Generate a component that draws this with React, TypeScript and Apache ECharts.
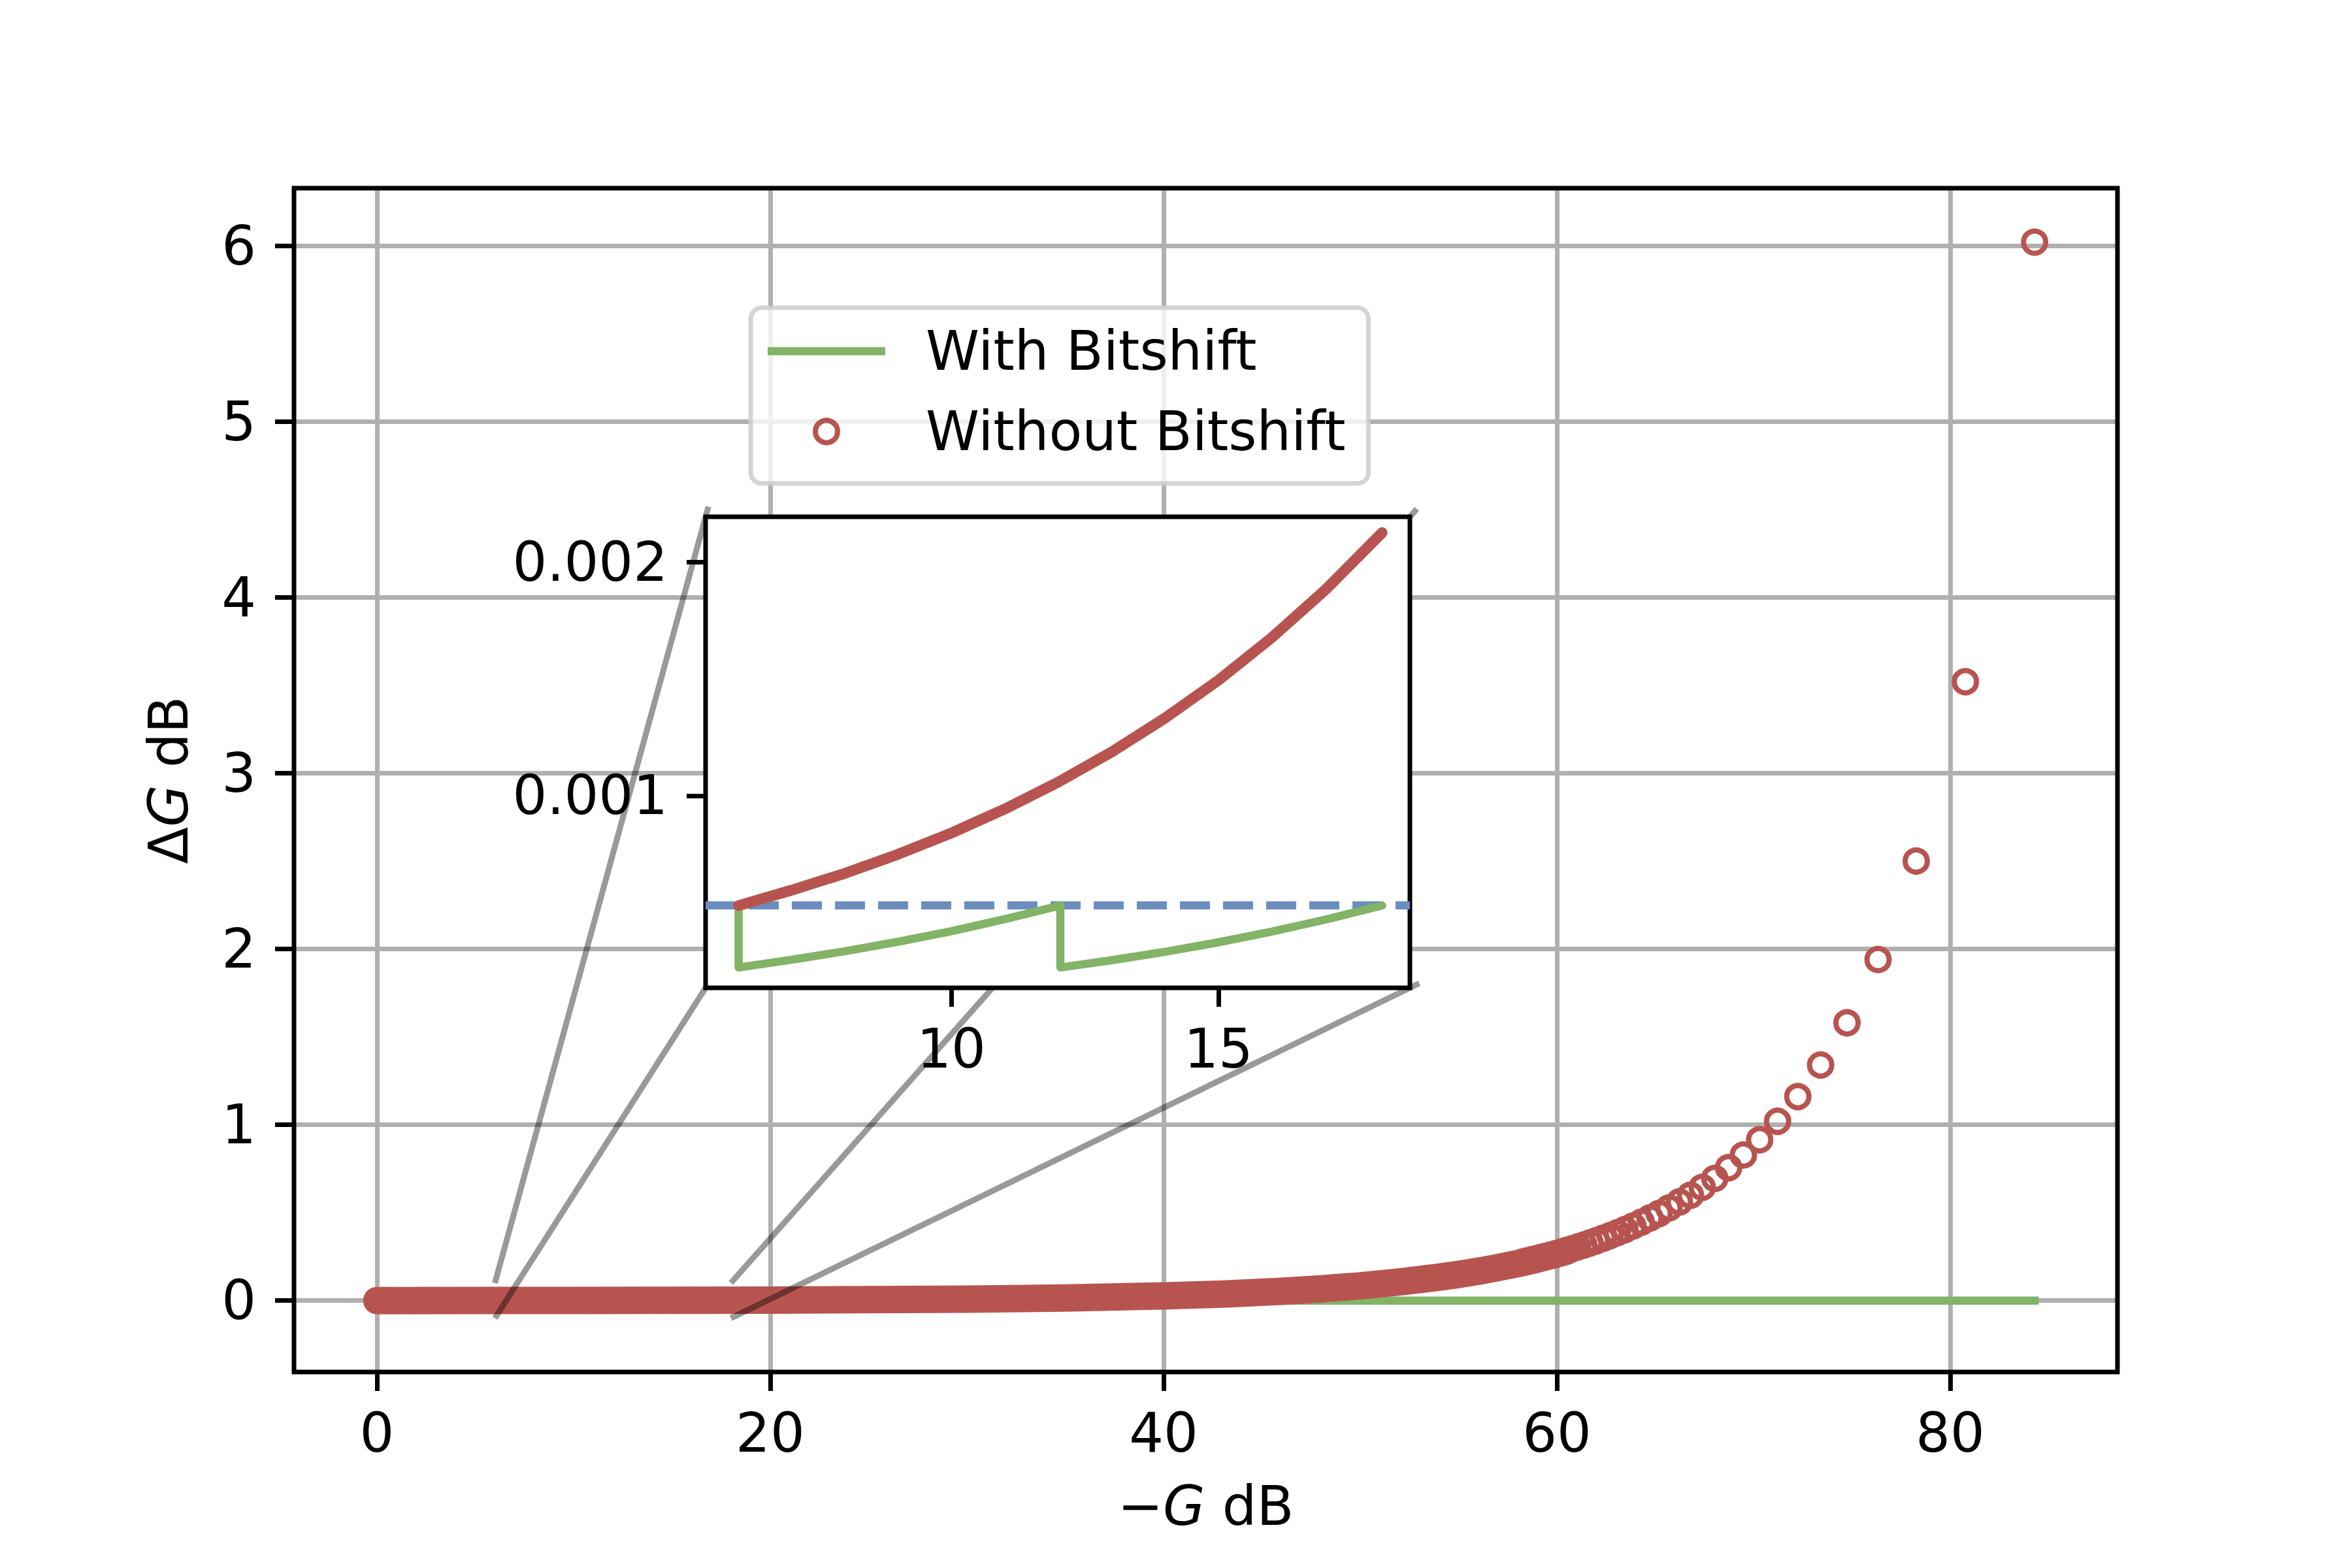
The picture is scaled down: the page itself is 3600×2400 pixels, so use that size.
import React, { useEffect, useRef } from 'react';
import * as echarts from 'echarts';

const FONT = 'DejaVu Sans';
const RED = '#b85450';
const GREEN = '#82b366';
const BLUE = '#6c8ebf';

// ---- tick labels ----
const MAIN_X_TICKS = [0, 20, 40, 60, 80];
const MAIN_Y_TICKS = [0, 1, 2, 3, 4, 5, 6];
const INSET_X_TICKS = [10, 15];
const INSET_Y_TICKS = [0.001, 0.002];

// ---- main axes: "With Bitshift" (flat near zero) ----
const greenX = [0, 84.29];
const greenY = [0.0004, 0.0004];

// ---- main axes: "Without Bitshift" dense part (overlapping markers form a band) ----
const bandX = [0, 10, 20, 30, 35, 40, 43, 46, 48, 50, 52, 54, 55, 56, 57, 58, 59, 60, 60.5];
const bandY = [0.0003, 0.0008, 0.0027, 0.0084, 0.015, 0.027, 0.037, 0.053, 0.067, 0.084, 0.106, 0.133, 0.149, 0.167, 0.188, 0.21, 0.236, 0.265, 0.281];

// ---- main axes: "Without Bitshift" separate markers ----
const markX = [84.29, 80.77, 78.27, 76.33, 74.75, 73.41, 72.25, 71.22, 70.31, 69.48, 68.73, 68.03, 67.39, 66.79, 66.23, 65.7, 65.2, 64.73, 64.29, 63.87, 63.46, 63.07, 62.71, 62.35, 62.01, 61.68, 61.37, 61.06, 60.77, 60.48, 60.21, 59.94, 59.68, 59.43, 59.18, 58.95, 58.71, 58.49, 58.27];
const markY = [6.02, 3.52, 2.5, 1.94, 1.58, 1.34, 1.16, 1.02, 0.915, 0.828, 0.756, 0.695, 0.644, 0.599, 0.561, 0.527, 0.496, 0.47, 0.446, 0.424, 0.404, 0.386, 0.37, 0.355, 0.341, 0.328, 0.316, 0.305, 0.295, 0.285, 0.276, 0.267, 0.259, 0.252, 0.245, 0.238, 0.232, 0.226, 0.22];

// ---- inset ----
const insetRedX = [6.02, 7, 8, 9, 10, 11, 12, 13, 14, 15, 16, 17, 18.06];
const insetRedY = [0.00053, 0.000595, 0.000667, 0.000749, 0.00084, 0.000943, 0.001058, 0.001187, 0.001332, 0.001494, 0.001677, 0.001881, 0.002125];
const insetGreenX = [6.02, 6.02, 7, 8, 9, 10, 11, 12.04, 12.04, 13, 14, 15, 16, 17, 18.06];
const insetGreenY = [0.00053, 0.000265, 0.000298, 0.000334, 0.000375, 0.00042, 0.000472, 0.00053, 0.000265, 0.000296, 0.000332, 0.000373, 0.000419, 0.00047, 0.00053];
const insetRefY = 0.000531;

// axis ranges
const MAIN_X_RANGE = [-4.214, 88.502];
const MAIN_Y_RANGE = [-0.406, 6.327];
const INSET_X_RANGE = [5.403, 18.58];
const INSET_Y_RANGE = [0.000178, 0.002193];
// zoomed region marked on the main axes
const ZOOM_X = [6, 18];
const ZOOM_Y = [-0.1, 0.1];

const zip = (xs: number[], ys: number[]) => xs.map((x, i) => [x, ys[i]]);

const labelStyle = { fontSize: 83, fontFamily: FONT, color: '#000' };
const nameStyle = {
  fontSize: 83,
  fontFamily: FONT,
  color: '#000',
  lineHeight: 83,
  rich: {
    i: { fontStyle: 'italic', fontSize: 83, fontFamily: FONT, color: '#000', lineHeight: 83 },
    n: { fontSize: 83, fontFamily: FONT, color: '#000', lineHeight: 83 },
  },
};
const tickStyle = { color: '#000', width: 7 };

export default function App() {
  const ref = useRef<HTMLDivElement>(null);
  useEffect(() => {
    if (!ref.current) return;
    const chart = echarts.init(ref.current, null, { renderer: 'svg', width: 3600, height: 2400 });
    const option: any = {
      animation: false,
      backgroundColor: '#fff',
      grid: [
        { left: 450, top: 288, width: 2791, height: 1812, show: true, borderColor: '#000', borderWidth: 7, backgroundColor: 'transparent', z: 1 },
        { left: 1080, top: 791, width: 1078, height: 721, show: true, borderColor: '#000', borderWidth: 7, backgroundColor: '#fff', z: 10 },
      ],
      xAxis: [
        {
          gridIndex: 0, type: 'value', min: MAIN_X_RANGE[0], max: MAIN_X_RANGE[1], position: 'bottom',
          axisLine: { show: false, onZero: false },
          axisTick: { show: true, length: 29, lineStyle: tickStyle, customValues: MAIN_X_TICKS },
          axisLabel: { customValues: MAIN_X_TICKS, margin: 52, ...labelStyle },
          splitLine: { show: true, lineStyle: { color: '#b0b0b0', width: 7 } },
          name: '{n|−}{i|G}{n| dB}', nameLocation: 'middle', nameGap: 164, nameTextStyle: nameStyle,
        },
        {
          gridIndex: 1, type: 'value', min: INSET_X_RANGE[0], max: INSET_X_RANGE[1], z: 11, position: 'bottom',
          axisLine: { show: false, onZero: false },
          axisTick: { show: true, length: 29, lineStyle: tickStyle, customValues: INSET_X_TICKS },
          axisLabel: { customValues: INSET_X_TICKS, margin: 52, ...labelStyle },
          splitLine: { show: false },
        },
      ],
      yAxis: [
        {
          gridIndex: 0, type: 'value', min: MAIN_Y_RANGE[0], max: MAIN_Y_RANGE[1], position: 'left',
          axisLine: { show: false, onZero: false },
          axisTick: { show: true, length: 29, lineStyle: tickStyle, customValues: MAIN_Y_TICKS },
          axisLabel: { customValues: MAIN_Y_TICKS, margin: 58, ...labelStyle },
          splitLine: { show: true, lineStyle: { color: '#b0b0b0', width: 7 } },
          name: '{n|Δ}{i|G}{n| dB}', nameLocation: 'middle', nameGap: 150, nameTextStyle: nameStyle,
        },
        {
          gridIndex: 1, type: 'value', min: INSET_Y_RANGE[0], max: INSET_Y_RANGE[1], z: 11, position: 'left',
          axisLine: { show: false, onZero: false },
          axisTick: { show: true, length: 29, lineStyle: tickStyle, customValues: INSET_Y_TICKS },
          axisLabel: { customValues: INSET_Y_TICKS, margin: 58, formatter: (v: number) => v.toFixed(3), ...labelStyle },
          splitLine: { show: false },
        },
      ],
      legend: {
        orient: 'vertical', left: 1149, top: 471, z: 20,
        itemWidth: 180, itemHeight: 34, itemGap: 40,
        padding: [25, 35, 38, 26],
        backgroundColor: 'rgba(255,255,255,0.8)',
        borderColor: 'rgba(204,204,204,0.85)', borderWidth: 7, borderRadius: 17,
        selectedMode: false,
        textStyle: { fontSize: 83, fontFamily: FONT, color: '#000', lineHeight: 83, padding: [0, 0, 0, 57] },
        data: [
          { name: 'With Bitshift', icon: 'path://M0,0H180V12.5H0Z', itemStyle: { color: GREEN, borderWidth: 0 } },
          { name: 'Without Bitshift', icon: 'circle', itemStyle: { color: 'rgba(255,255,255,0)', borderColor: RED, borderWidth: 8, opacity: 1 } },
        ],
      },
      series: [
        {
          name: 'With Bitshift', type: 'line', xAxisIndex: 0, yAxisIndex: 0, z: 2,
          data: zip(greenX, greenY), symbol: 'none', silent: true,
          lineStyle: { color: GREEN, width: 12.5, cap: 'square' }, itemStyle: { color: GREEN },
        },
        {
          name: 'Without Bitshift', type: 'line', xAxisIndex: 0, yAxisIndex: 0, z: 2,
          data: zip(bandX, bandY), symbol: 'none', silent: true,
          lineStyle: { color: RED, width: 42, cap: 'round', join: 'round' }, itemStyle: { color: RED },
        },
        {
          name: 'Without Bitshift', type: 'scatter', xAxisIndex: 0, yAxisIndex: 0, z: 2,
          data: zip(markX, markY), symbol: 'circle', symbolSize: 34, silent: true,
          itemStyle: { color: 'rgba(255,255,255,0)', borderColor: RED, borderWidth: 8, opacity: 1 },
        },
        {
          name: 'inset-ref', type: 'line', xAxisIndex: 1, yAxisIndex: 1, z: 12,
          data: [[INSET_X_RANGE[0], insetRefY], [INSET_X_RANGE[1], insetRefY]], symbol: 'none', silent: true,
          lineStyle: { color: BLUE, width: 12.5, type: [46, 20], cap: 'butt' },
        },
        {
          name: 'inset-with', type: 'line', xAxisIndex: 1, yAxisIndex: 1, z: 12,
          data: zip(insetGreenX, insetGreenY), symbol: 'none', silent: true,
          lineStyle: { color: GREEN, width: 12.5, cap: 'round', join: 'round' },
        },
        {
          name: 'inset-without', type: 'line', xAxisIndex: 1, yAxisIndex: 1, z: 12,
          data: zip(insetRedX, insetRedY), symbol: 'none', silent: true,
          lineStyle: { color: RED, width: 16.5, cap: 'round', join: 'round' },
        },
      ],
    };
    chart.setOption(option);

    // connector lines from the zoom region to the inset corners
    const px = (g: number, p: number[]) => chart.convertToPixel({ gridIndex: g } as any, p) as number[];
    const pairs = [
      [[ZOOM_X[0], ZOOM_Y[1]], [INSET_X_RANGE[0], INSET_Y_RANGE[1]]],
      [[ZOOM_X[0], ZOOM_Y[0]], [INSET_X_RANGE[0], INSET_Y_RANGE[0]]],
      [[ZOOM_X[1], ZOOM_Y[1]], [INSET_X_RANGE[1], INSET_Y_RANGE[1]]],
      [[ZOOM_X[1], ZOOM_Y[0]], [INSET_X_RANGE[1], INSET_Y_RANGE[0]]],
    ];
    const lines = pairs.map(([a, b]) => {
      const p = px(0, a);
      const q = px(1, b);
      const dx = q[0] - p[0];
      const dy = q[1] - p[1];
      const L = Math.hypot(dx, dy) || 1;
      const ext = 16;
      return {
        type: 'line', z: 5, silent: true,
        shape: { x1: p[0], y1: p[1], x2: q[0] + (dx / L) * ext, y2: q[1] + (dy / L) * ext },
        style: { stroke: 'rgba(0,0,0,0.4)', lineWidth: 9 },
      };
    });
    chart.setOption({ graphic: { elements: lines } });

    return () => chart.dispose();
  }, []);
  return <div ref={ref} style={{ position: 'fixed', left: 0, top: 0, width: 3600, height: 2400, background: '#fff' }} />;
}
